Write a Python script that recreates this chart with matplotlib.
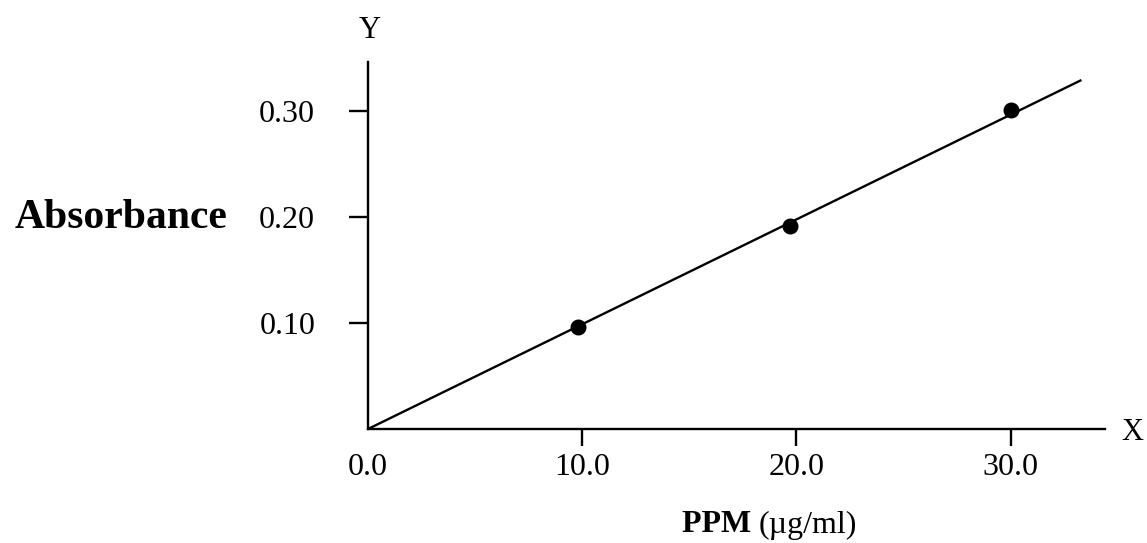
import matplotlib
matplotlib.use("Agg")
import matplotlib.pyplot as plt

# calibration points
ppm = [9.8, 19.7, 30.0]
absorbance = [0.096, 0.191, 0.301]

# fitted line through the origin
fit_x = [0.0, 33.3]
fit_y = [0.0, 0.329]

x_ticks = [0.0, 10.0, 20.0, 30.0]
x_tick_labels = ["0.0", "10.0", "20.0", "30.0"]
y_ticks = [0.10, 0.20, 0.30]
y_tick_labels = ["0.10", "0.20", "0.30"]

plt.rcParams["font.family"] = ["Liberation Serif", "DejaVu Serif"]

W, H = 1147, 543
fig = plt.figure(figsize=(W / 100, H / 100), dpi=100)
x0, y0, x1, y1 = 368, 429, 1105, 62
ax = fig.add_axes([x0 / W, (H - y0) / H, (x1 - x0) / W, (y0 - y1) / H])

ax.plot(fit_x, fit_y, color="black", lw=1.7, solid_capstyle="butt")
ax.plot(ppm, absorbance, "o", color="black", ms=10.5)

ax.set_xlim(0, 34.4)
ax.set_ylim(0, 0.346)
for s in ("top", "right"):
    ax.spines[s].set_visible(False)
for s in ("left", "bottom"):
    ax.spines[s].set_linewidth(1.7)

ax.set_xticks(x_ticks, x_tick_labels)
ax.set_yticks(y_ticks, y_tick_labels)
ax.tick_params(axis="x", length=12, width=1.7, pad=5, labelsize=23)
ax.tick_params(axis="y", length=14, width=1.7, pad=24, labelsize=23)
# no tick mark at the origin, only its label
first = ax.xaxis.get_major_ticks()[0]
first.tick1line.set_visible(False)

fig.text(370 / W, 1 - 30 / H, "Y", ha="center", va="center", fontsize=22)
fig.text(1132 / W, 1 - 433 / H, "X", ha="center", va="center", fontsize=22)
fig.text(15 / W, 1 - 218 / H, "Absorbance", ha="left", va="center",
         fontsize=30, fontweight="bold")

t1 = fig.text(682 / W, 1 - 525 / H, "PPM ", ha="left", va="center",
              fontsize=23, fontweight="bold")
fig.canvas.draw()
bb = t1.get_window_extent()
fig.text(bb.x1 / W, 1 - 525 / H, "(\u00b5g/ml)", ha="left", va="center",
         fontsize=23)

fig.savefig("out.png", dpi=100)
